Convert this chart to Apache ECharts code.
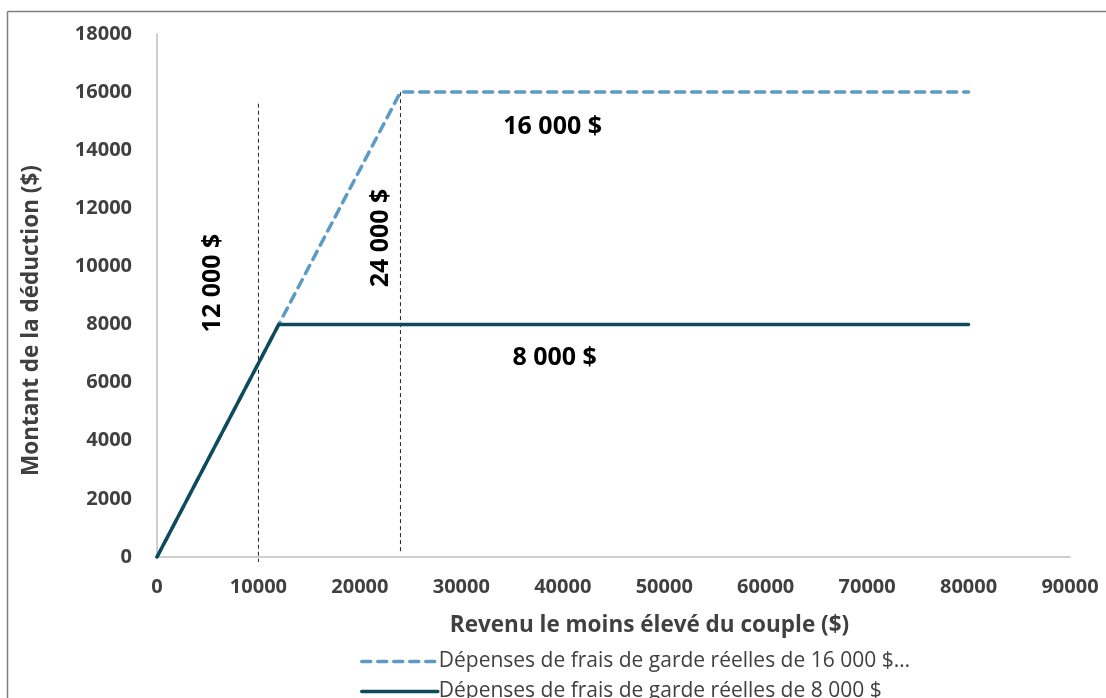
<!DOCTYPE html>
<html>
<head>
<meta charset="utf-8">
<script src="https://cdn.jsdelivr.net/npm/echarts@6/dist/echarts.min.js"></script>
<style>
  html, body { margin: 0; padding: 0; background: #fff; }
  #chart { width: 1106px; height: 698px; }
</style>
</head>
<body>
<div id="chart"></div>
<script>
// Deduction amount by lower income of the couple
const seriesNames = [
  'Dépenses de frais de garde réelles de 16 000 $…',
  'Dépenses de frais de garde réelles de 8 000 $'
];
const highIncome = [0, 24000, 80000];
const highDeduction = [0, 16000, 16000];
const lowIncome = [0, 12000, 80000];
const lowDeduction = [0, 8000, 8000];

// Vertical reference lines (income, top, bottom)
const guideIncome = [10000, 24000];
const guideTop = [15600, 16000];
const guideBottom = [-170, 140];

// Threshold annotations
const capValues = [16000, 8000];
const thresholdValues = [12000, 24000];

const axisColor = '#404040';
const fontFamily = '"Open Sans", "Noto Sans", sans-serif';

function money(v) {
  return String(v).replace(/\B(?=(\d{3})+(?!\d))/g, ' ') + ' $';
}
function pairs(xs, ys) { return xs.map((x, i) => [x, ys[i]]); }

const annLabel = {
  show: true,
  position: 'inside',
  formatter: p => money(p.value),
  color: '#000',
  fontWeight: 'bold',
  fontSize: 25,
  fontFamily: fontFamily
};
function annotations(items) {
  return {
    symbol: 'circle',
    symbolSize: 1,
    silent: true,
    itemStyle: { color: 'rgba(0,0,0,0)' },
    label: annLabel,
    data: items
  };
}

const guideSeries = guideIncome.map((x, i) => ({
  type: 'line',
  name: 'guide' + i,
  data: [[x, guideTop[i]], [x, guideBottom[i]]],
  symbol: 'none',
  clip: false,
  silent: true,
  z: 1,
  lineStyle: { color: '#222', width: 1, type: [4, 3] }
}));

function legendFor(name, top) {
  return {
    data: [name],
    left: 355,
    top: top,
    itemWidth: 76,
    itemHeight: 14,
    itemStyle: { opacity: 0 },
    lineStyle: { width: 3.5, cap: 'round' },
    textStyle: { color: axisColor, fontSize: 21, fontFamily: fontFamily, padding: [0, 0, 0, -4] }
  };
}

const chart = echarts.init(document.getElementById('chart'), null, { renderer: 'canvas' });
chart.setOption({
  animation: false,
  backgroundColor: '#fff',
  textStyle: { fontFamily: fontFamily },
  grid: { left: 157, right: 36, top: 34, bottom: 141 },
  graphic: [
    { type: 'line', shape: { x1: 7.5, y1: 11.5, x2: 1106, y2: 11.5 }, style: { stroke: '#7f7f7f', lineWidth: 1.5 } },
    { type: 'line', shape: { x1: 7.5, y1: 11.5, x2: 7.5, y2: 698 }, style: { stroke: '#7f7f7f', lineWidth: 1.5 } }
  ],
  legend: [legendFor(seriesNames[0], 646), legendFor(seriesNames[1], 676)],
  xAxis: {
    type: 'value',
    min: 0,
    max: 90000,
    interval: 10000,
    name: 'Revenu le moins élevé du couple ($)',
    nameLocation: 'middle',
    nameGap: 57,
    nameTextStyle: { color: axisColor, fontWeight: 'bold', fontSize: 22.5, fontFamily: fontFamily, padding: [0, 0, 0, 72] },
    axisLine: { lineStyle: { color: '#bfbfbf', width: 1.5 } },
    axisTick: { show: false },
    splitLine: { show: false },
    axisLabel: { color: axisColor, fontWeight: 'bold', fontSize: 20, margin: 20, fontFamily: fontFamily, formatter: v => String(v) }
  },
  yAxis: {
    type: 'value',
    min: 0,
    max: 18000,
    interval: 2000,
    name: 'Montant de la déduction ($)',
    nameLocation: 'middle',
    nameGap: 114,
    nameTextStyle: { color: axisColor, fontWeight: 'bold', fontSize: 22.5, fontFamily: fontFamily, padding: [0, 50, 0, 0] },
    axisLine: { show: true, lineStyle: { color: '#bfbfbf', width: 1.5 } },
    axisTick: { show: false },
    splitLine: { show: false },
    axisLabel: { color: axisColor, fontWeight: 'bold', fontSize: 20, margin: 25, fontFamily: fontFamily, formatter: v => String(v) }
  },
  series: guideSeries.concat([
    {
      type: 'line',
      name: seriesNames[0],
      data: pairs(highIncome, highDeduction),
      symbol: 'none',
      z: 2,
      lineStyle: { color: '#5b9bc6', width: 3.5, type: [9, 7], cap: 'round' },
      itemStyle: { color: '#5b9bc6' },
      markPoint: annotations([
        { coord: [39000, 14800], value: capValues[0] },
        { coord: [22050, 10980], value: thresholdValues[1], label: { rotate: 90 } }
      ])
    },
    {
      type: 'line',
      name: seriesNames[1],
      data: pairs(lowIncome, lowDeduction),
      symbol: 'none',
      z: 3,
      lineStyle: { color: '#0d4b5b', width: 3.5, cap: 'round', join: 'miter' },
      itemStyle: { color: '#0d4b5b' },
      markPoint: annotations([
        { coord: [39200, 6850], value: capValues[1] },
        { coord: [5500, 9430], value: thresholdValues[0], label: { rotate: 90 } }
      ])
    }
  ])
});
</script>
</body>
</html>
